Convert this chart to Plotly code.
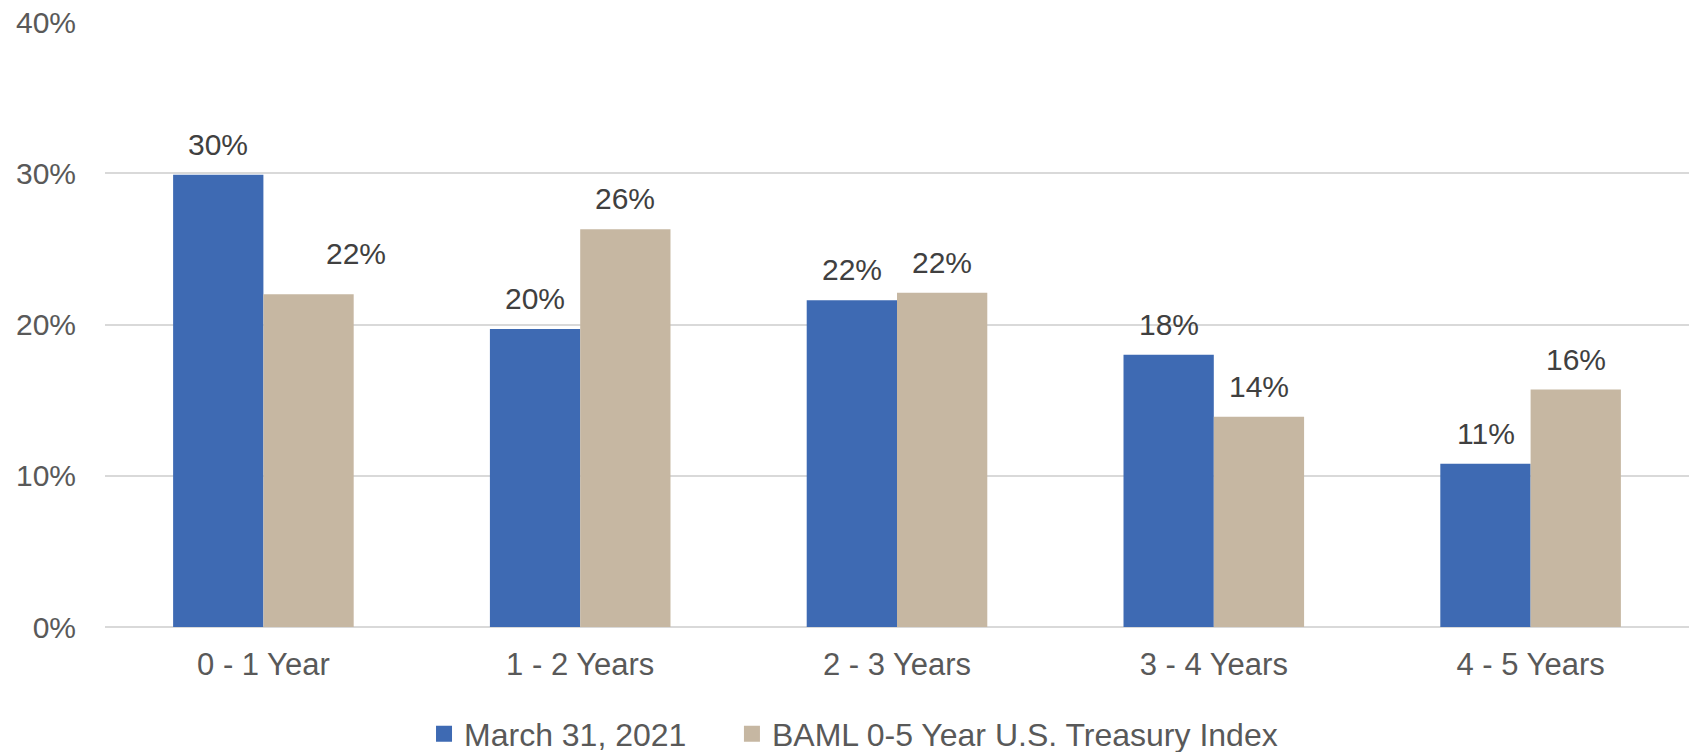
import plotly.graph_objects as go

# Maturity buckets and allocation (% of portfolio)
categories = ["0 - 1 Year", "1 - 2 Years", "2 - 3 Years", "3 - 4 Years", "4 - 5 Years"]
portfolio = [29.9, 19.7, 21.6, 18.0, 10.8]
benchmark = [22.0, 26.3, 22.1, 13.9, 15.7]
series_names = ["March 31, 2021", "BAML 0-5 Year U.S. Treasury Index"]
y_ticks = [0, 10, 20, 30, 40]
y_tick_labels = ["0%", "10%", "20%", "30%", "40%"]

BLUE = "#3E6AB3"
TAN = "#C6B7A2"
GRID = "#D9D9D9"
FONT = "Liberation Sans, Arial, sans-serif"

fig = go.Figure()

legend_ids = ["legend", "legend2"]
for name, vals, color, lg in [(series_names[0], portfolio, BLUE, legend_ids[0]),
                              (series_names[1], benchmark, TAN, legend_ids[1])]:
    fig.add_trace(go.Bar(
        x=categories, y=vals, name=name,
        marker=dict(color=color, line=dict(width=0)),
        showlegend=False, hoverinfo="x+y",
    ))
    # legend swatch entry
    fig.add_trace(go.Scatter(
        x=[None], y=[None], mode="markers", name=name,
        marker=dict(symbol="square", size=16, color=color),
        showlegend=True, legend=lg,
    ))

# value labels above each bar
bar_half = 45
label_nudge = {(1, 0): (48, 10)}  # (series, category) -> (dx, dy)
for s, vals in enumerate([portfolio, benchmark]):
    for i, (cat, v) in enumerate(zip(categories, vals)):
        dx, dy = label_nudge.get((s, i), (0, 0))
        fig.add_annotation(
            x=cat, y=v, text=f"{v:.0f}%", showarrow=False,
            xshift=(-bar_half if s == 0 else bar_half) + dx,
            yshift=12 + dy, yanchor="bottom",
            font=dict(family=FONT, size=30, color="#404040"),
        )

legend_style = dict(
    orientation="h", xanchor="left",
    yref="container", y=0.024, yanchor="middle",
    font=dict(family=FONT, size=32, color="#595959"),
    itemclick=False, itemdoubleclick=False,
    bgcolor="rgba(0,0,0,0)",
)

fig.update_layout(
    width=1692, height=752,
    margin=dict(l=105, r=3, t=22, b=125),
    paper_bgcolor="white", plot_bgcolor="white",
    barmode="group", bargap=0.43, bargroupgap=0,
    font=dict(family=FONT, size=31, color="#595959"),
    legend=dict(x=0.2014, **legend_style),
    legend2=dict(x=0.3958, **legend_style),
    xaxis=dict(
        type="category", showgrid=False, zeroline=False, showline=False,
        ticks="", ticklabelstandoff=16,
        tickfont=dict(family=FONT, size=31, color="#595959"),
    ),
    yaxis=dict(
        range=[0, 40], tickmode="array", tickvals=y_ticks, ticktext=y_tick_labels,
        showgrid=True, gridcolor=GRID, gridwidth=2,
        zeroline=True, zerolinecolor=GRID, zerolinewidth=2,
        showline=False, ticks="", ticklabelstandoff=28,
        tickfont=dict(family=FONT, size=30, color="#595959"),
    ),
)

fig.write_html("out.html")
